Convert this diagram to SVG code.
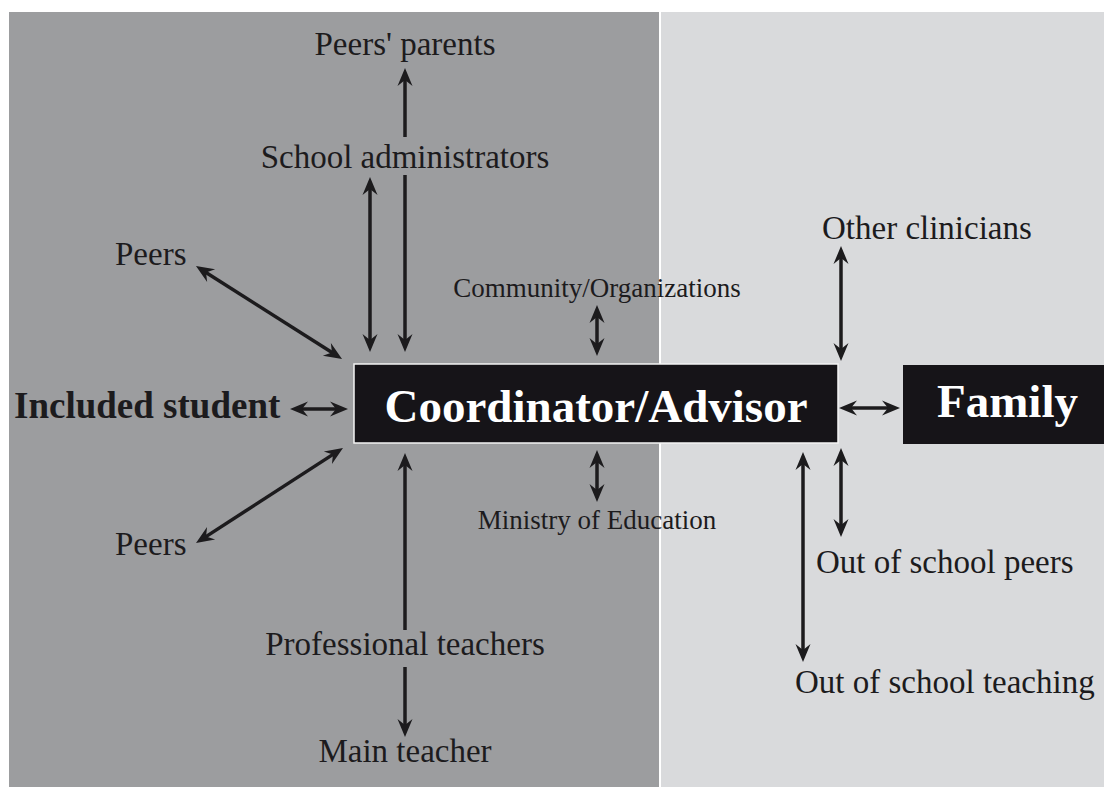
<svg xmlns="http://www.w3.org/2000/svg" width="1104" height="787" viewBox="0 0 1104 787">
  <style>
    .lbl { font-family: "Liberation Serif", "Times New Roman", serif; font-size: 33px; fill: #1c1b1d; }
    .sm { font-size: 27px; }
    .bold { font-weight: bold; }
    .inv { fill: #ffffff; font-size: 47px; }
    .link { stroke: #1c1b1d; stroke-width: 3.5; fill: none; }
    .both { marker-start: url(#head); marker-end: url(#head); }
    .fwd { marker-end: url(#head); }
  </style>
  <defs>
    <!-- barbed arrowhead; tip sits 10 units beyond the line end -->
    <marker id="head" markerUnits="userSpaceOnUse" orient="auto-start-reverse"
            refX="-10" refY="0" markerWidth="20" markerHeight="20" overflow="visible">
      <path d="M0,0 L-18,-7.5 L-12,0 L-18,7.5 Z" fill="#1c1b1d"/>
    </marker>
  </defs>

  <rect width="1104" height="787" fill="#ffffff"/>

  <!-- school side and out-of-school side -->
  <g id="panels">
    <rect x="9" y="12" width="650" height="775" fill="#9c9d9f"/>
    <rect x="661" y="12" width="443" height="775" fill="#d9dadc"/>
  </g>

  <g id="connectors">
    <line class="link fwd" x1="405" y1="137" x2="405" y2="78"/>
    <line class="link both" x1="370" y1="187" x2="370" y2="342"/>
    <line class="link fwd" x1="405" y1="175" x2="405" y2="342"/>
    <line class="link both" x1="204.4" y1="271.4" x2="333.6" y2="353.6"/>
    <line class="link both" x1="204.4" y1="537.6" x2="334.6" y2="453.4"/>
    <line class="link both" x1="300" y1="409" x2="338" y2="409"/>
    <line class="link both" x1="597" y1="315" x2="597" y2="346"/>
    <line class="link both" x1="597" y1="460" x2="597" y2="492"/>
    <line class="link fwd" x1="405" y1="630" x2="405" y2="463"/>
    <line class="link fwd" x1="405" y1="667" x2="405" y2="727"/>
    <line class="link both" x1="841" y1="256" x2="841" y2="351"/>
    <line class="link both" x1="849" y1="408" x2="890" y2="408"/>
    <line class="link both" x1="841" y1="458" x2="841" y2="527"/>
    <line class="link both" x1="803" y1="462" x2="803" y2="652"/>
  </g>

  <g id="coordinator">
    <rect x="354" y="364" width="484" height="79" fill="#161418" stroke="#f4f4f4" stroke-width="1.5"/>
    <text class="lbl bold inv" x="596" y="422" text-anchor="middle">Coordinator/Advisor</text>
  </g>

  <g id="family">
    <rect x="903" y="365" width="201" height="79" fill="#161418"/>
    <text class="lbl bold inv" x="937" y="417">Family</text>
  </g>

  <g id="included-student">
    <text class="lbl bold" x="14" y="418" style="font-size:37px">Included student</text>
  </g>

  <g id="peers-parents">
    <text class="lbl" x="405" y="55" text-anchor="middle">Peers' parents</text>
  </g>

  <g id="school-administrators">
    <text class="lbl" x="405" y="168" text-anchor="middle">School administrators</text>
  </g>

  <g id="peers-upper">
    <text class="lbl" x="115" y="265">Peers</text>
  </g>

  <g id="community">
    <text class="lbl sm" x="597" y="297" text-anchor="middle">Community/Organizations</text>
  </g>

  <g id="ministry">
    <text class="lbl sm" x="597" y="529" text-anchor="middle">Ministry of Education</text>
  </g>

  <g id="peers-lower">
    <text class="lbl" x="115" y="555">Peers</text>
  </g>

  <g id="professional-teachers">
    <text class="lbl" x="405" y="655" text-anchor="middle">Professional teachers</text>
  </g>

  <g id="main-teacher">
    <text class="lbl" x="405" y="762" text-anchor="middle">Main teacher</text>
  </g>

  <g id="other-clinicians">
    <text class="lbl" x="822" y="239">Other clinicians</text>
  </g>

  <g id="out-of-school-peers">
    <text class="lbl" x="816" y="573">Out of school peers</text>
  </g>

  <g id="out-of-school-teaching">
    <text class="lbl" x="795" y="693">Out of school teaching</text>
  </g>
</svg>
